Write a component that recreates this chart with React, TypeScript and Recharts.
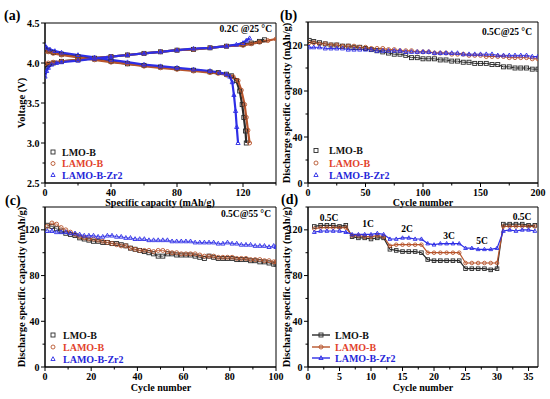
import React from 'react';
import { LineChart, Line, XAxis, YAxis, ReferenceArea } from 'recharts';

const FONT = '"Times New Roman", "Liberation Serif", serif';
const C_BLACK = '#2a2a2a';
const C_BROWN = '#b8552c';
const C_BLUE = '#2e2ee6';
const T_RED = '#e2432c';
const T_BLUE = '#2626d8';

const SERIES_NAMES = ['LMO-B', 'LAMO-B', 'LAMO-B-Zr2'];

// ---------- Panel (a): charge / discharge profiles ----------
const aLmoChgCap = [0, 2, 5, 10, 20, 30, 40, 50, 60, 70, 80, 90, 100, 110, 120, 125, 130, 133];
const aLmoChgV = [3.95, 3.98, 4.0, 4.02, 4.04, 4.06, 4.08, 4.1, 4.12, 4.14, 4.16, 4.17, 4.19, 4.21, 4.23, 4.25, 4.27, 4.29];
const aLamoChgCap = [0, 2, 5, 10, 20, 30, 40, 50, 60, 70, 80, 90, 100, 110, 120, 125, 130, 135, 140];
const aLamoChgV = [3.99, 4.0, 4.01, 4.02, 4.04, 4.06, 4.08, 4.1, 4.12, 4.14, 4.16, 4.17, 4.19, 4.21, 4.22, 4.24, 4.26, 4.28, 4.3];
const aZrChgCap = [0, 1, 2, 4, 7, 10, 20, 30, 40, 50, 60, 70, 80, 90, 100, 110, 116, 120, 122, 124];
const aZrChgV = [3.83, 3.9, 3.94, 3.98, 4.0, 4.01, 4.03, 4.055, 4.08, 4.1, 4.12, 4.14, 4.16, 4.18, 4.19, 4.21, 4.23, 4.25, 4.28, 4.31];

const aLmoDisCap = [0, 2, 5, 10, 20, 30, 40, 50, 60, 70, 80, 90, 100, 105, 110, 113, 116, 118, 119.5, 120.5, 121.5, 122];
const aLmoDisV = [4.17, 4.15, 4.13, 4.11, 4.08, 4.05, 4.02, 3.99, 3.97, 3.95, 3.93, 3.91, 3.89, 3.88, 3.86, 3.84, 3.78, 3.65, 3.48, 3.32, 3.15, 3.0];
const aLamoDisCap = [0, 2, 5, 10, 20, 30, 40, 50, 60, 70, 80, 90, 100, 105, 110, 114, 117, 119, 121, 122, 123, 124];
const aLamoDisV = [4.15, 4.14, 4.12, 4.1, 4.07, 4.04, 4.01, 3.99, 3.96, 3.94, 3.92, 3.9, 3.88, 3.87, 3.85, 3.83, 3.78, 3.66, 3.48, 3.32, 3.16, 3.0];
const aZrDisCap = [0, 1, 3, 6, 10, 20, 30, 40, 50, 60, 70, 80, 90, 100, 106, 110, 112, 113.5, 114.5, 115.5, 116.2, 117];
const aZrDisV = [4.22, 4.19, 4.17, 4.15, 4.13, 4.1, 4.07, 4.04, 4.01, 3.98, 3.96, 3.94, 3.92, 3.9, 3.88, 3.86, 3.83, 3.76, 3.6, 3.4, 3.2, 3.0];

const aXTicks = [0, 20, 40, 60, 80, 100, 120, 140];
const aXMajor = [0, 40, 80, 120];
const aYTicks = [2.5, 2.75, 3.0, 3.25, 3.5, 3.75, 4.0, 4.25, 4.5];
const aYMajor = [2.5, 3.0, 3.5, 4.0, 4.5];

// ---------- Panel (b): cycling 0.5C @ 25 °C ----------
const bCycles = [1, 5, 10, 15, 20, 25, 30, 35, 40, 45, 50, 55, 60, 65, 70, 75, 80, 85, 90, 95, 100, 105, 110, 115, 120, 125, 130, 135, 140, 145, 150, 155, 160, 165, 170, 175, 180, 185, 190, 195, 200];
const bLmo = [124, 123, 122, 121, 120, 120, 119, 119, 118, 118, 117, 116, 115, 114, 113, 112, 112, 111, 109, 109, 108, 108, 108, 107, 107, 106, 106, 105, 105, 104, 104, 104, 103, 103, 101, 101, 100, 100, 100, 99, 99];
const bLamo = [122, 122, 121, 121, 120, 120, 119, 119, 119, 118, 118, 117, 117, 117, 116, 116, 115, 115, 115, 114, 114, 114, 113, 113, 113, 112, 112, 112, 111, 111, 111, 110, 110, 110, 110, 109, 109, 109, 109, 108, 108];
const bZr = [118, 118, 118, 117, 117, 117, 117, 116, 116, 116, 116, 116, 115, 115, 115, 115, 115, 114, 114, 114, 114, 114, 113, 113, 113, 113, 113, 112, 112, 112, 112, 112, 112, 111, 111, 111, 111, 111, 111, 110, 110];
const bXTicks = [0, 25, 50, 75, 100, 125, 150, 175, 200];
const bXMajor = [0, 50, 100, 150, 200];

// ---------- Panel (c): cycling 0.5C @ 55 °C ----------
const cCycles = [1, 3, 5, 7, 9, 11, 13, 15, 17, 19, 21, 23, 25, 27, 29, 31, 33, 35, 37, 39, 41, 43, 45, 47, 49, 51, 53, 55, 57, 59, 61, 63, 65, 67, 69, 71, 73, 75, 77, 79, 81, 83, 85, 87, 89, 91, 93, 95, 97, 99, 100];
const cLmo = [124, 123, 121, 119, 117, 116, 115, 113, 112, 111, 110, 110, 109, 109, 108, 108, 107, 106, 104, 103, 102, 101, 100, 99, 97, 97, 99, 99, 98, 98, 98, 98, 97, 96, 95, 97, 96, 95, 95, 95, 95, 94, 94, 94, 93, 93, 92, 92, 91, 90, 90];
const cLamo = [123, 126, 125, 122, 120, 118, 116, 114, 113, 112, 112, 111, 110, 109, 108, 107, 106, 106, 104, 103, 102, 102, 102, 101, 102, 102, 101, 100, 100, 99, 99, 99, 99, 98, 97, 97, 97, 96, 96, 96, 96, 95, 95, 95, 94, 94, 94, 93, 93, 92, 92];
const cZr = [119, 119, 118, 118, 118, 117, 117, 116, 115, 115, 115, 114, 114, 115, 115, 114, 114, 113, 113, 112, 112, 112, 111, 111, 111, 111, 111, 110, 110, 110, 110, 110, 109, 109, 109, 109, 109, 108, 108, 109, 108, 108, 107, 107, 107, 106, 106, 106, 105, 106, 105];
const cXTicks = [0, 10, 20, 30, 40, 50, 60, 70, 80, 90, 100];
const cXMajor = [0, 20, 40, 60, 80, 100];

// ---------- Panel (d): rate capability ----------
const dCycles = [1, 2, 3, 4, 5, 6, 7, 8, 9, 10, 11, 12, 13, 14, 15, 16, 17, 18, 19, 20, 21, 22, 23, 24, 25, 26, 27, 28, 29, 30, 31, 32, 33, 34, 35, 36];
const dLmo = [123, 124, 124, 124, 123, 124, 114, 113, 113, 112, 113, 113, 103, 102, 101, 101, 101, 100, 94, 93, 93, 93, 93, 93, 86, 86, 86, 86, 85, 86, 125, 125, 125, 125, 124, 124];
const dLamo = [121, 122, 122, 122, 122, 122, 115, 115, 114, 114, 115, 114, 106, 107, 107, 107, 107, 107, 100, 100, 100, 100, 100, 100, 91, 91, 91, 91, 91, 91, 123, 123, 123, 123, 123, 123];
const dZr = [118, 119, 119, 119, 119, 118, 116, 116, 116, 116, 117, 116, 112, 112, 113, 113, 112, 112, 108, 107, 108, 108, 108, 108, 104, 104, 103, 103, 103, 104, 119, 120, 119, 120, 120, 119];
const dXTicks = [0, 2.5, 5, 7.5, 10, 12.5, 15, 17.5, 20, 22.5, 25, 27.5, 30, 32.5, 35];
const dXMajor = [0, 5, 10, 15, 20, 25, 30, 35];
const dRateLabels = ['0.5C', '1C', '2C', '3C', '5C', '0.5C'];

const capYTicks = [0, 20, 40, 60, 80, 100, 120, 140];
const capYMajor = [0, 40, 80, 120];

// ---------- helpers ----------
type Pt = { x: number; y: number };
type Shape = 'square' | 'circle' | 'triangle';
const zip = (xs: number[], ys: number[]): Pt[] => xs.map((x, i) => ({ x, y: ys[i] }));

function Marker({ cx, cy, shape, color, s }: { cx?: number; cy?: number; shape: Shape; color: string; s: number }) {
  if (cx == null || cy == null || isNaN(cx) || isNaN(cy)) return <g />;
  if (shape === 'square')
    return <rect x={cx - s} y={cy - s} width={2 * s} height={2 * s} fill="none" stroke={color} strokeWidth={0.9} />;
  if (shape === 'circle') return <circle cx={cx} cy={cy} r={s} fill="none" stroke={color} strokeWidth={0.9} />;
  return (
    <path
      d={`M${cx},${cy - s * 1.15} L${cx + s * 1.05},${cy + s * 0.75} L${cx - s * 1.05},${cy + s * 0.75} Z`}
      fill="none"
      stroke={color}
      strokeWidth={0.9}
    />
  );
}

const makeDot = (shape: Shape, color: string, s: number) => (p: any) => (
  <Marker key={`d-${p.index}`} cx={p.cx} cy={p.cy} shape={shape} color={color} s={s} />
);

const isMajor = (majors: number[], v: number) => majors.some((m) => Math.abs(m - v) < 1e-9);

const mkXTick = (majors: number[]) => (p: any) => {
  const { x, y, payload } = p;
  const v = payload.value;
  const major = isMajor(majors, v);
  return (
    <g key={`xt-${v}`}>
      <line x1={x} y1={y} x2={x} y2={y + (major ? 4 : 2.5)} stroke="#000" strokeWidth={1} />
      {major && (
        <text x={x} y={y + 9} textAnchor="middle" dominantBaseline="central" fontSize={10} fontWeight="bold" fontFamily={FONT} fill="#000">
          {String(v)}
        </text>
      )}
    </g>
  );
};

const mkYTick = (majors: number[], fmt: (v: number) => string) => (p: any) => {
  const { x, y, payload } = p;
  const v = payload.value;
  const major = isMajor(majors, v);
  return (
    <g key={`yt-${v}`}>
      <line x1={x} y1={y} x2={x - (major ? 4 : 2.5)} y2={y} stroke="#000" strokeWidth={1} />
      {major && (
        <text x={x - 5.5} y={y} textAnchor="end" dominantBaseline="central" fontSize={10} fontWeight="bold" fontFamily={FONT} fill="#000">
          {fmt(v)}
        </text>
      )}
    </g>
  );
};

type SeriesDef = { data: Pt[]; color: string; shape: Shape; width: number; size: number };

function Panel(props: {
  left: number;
  top: number;
  width: number;
  height: number;
  margin: { top: number; right: number; bottom: number; left: number };
  yWidth: number;
  xDomain: [number, number];
  yDomain: [number, number];
  xTicks: number[];
  xMajor: number[];
  yTicks: number[];
  yMajor: number[];
  yFmt: (v: number) => string;
  series: SeriesDef[];
}) {
  const { left, top, width, height, margin, yWidth, xDomain, yDomain, xTicks, xMajor, yTicks, yMajor, yFmt, series } = props;
  return (
    <div style={{ position: 'absolute', left, top }}>
      <LineChart width={width} height={height} margin={margin}>
        <XAxis
          type="number"
          dataKey="x"
          domain={xDomain}
          ticks={xTicks}
          interval={0}
          allowDataOverflow
          height={25}
          tickLine={false}
          tickSize={0}
          tickMargin={0}
          axisLine={{ stroke: '#000', strokeWidth: 1 }}
          tick={mkXTick(xMajor)}
        />
        <YAxis
          type="number"
          domain={yDomain}
          ticks={yTicks}
          interval={0}
          allowDataOverflow
          width={yWidth}
          tickLine={false}
          tickSize={0}
          tickMargin={0}
          axisLine={{ stroke: '#000', strokeWidth: 1 }}
          tick={mkYTick(yMajor, yFmt)}
        />
        <ReferenceArea x1={xDomain[0]} x2={xDomain[1]} y1={yDomain[0]} y2={yDomain[1]} fill="none" stroke="#000" strokeWidth={1} />
        {series.map((s, i) => (
          <Line
            key={i}
            data={s.data}
            dataKey="y"
            type="linear"
            stroke={s.color}
            strokeWidth={s.width}
            dot={makeDot(s.shape, s.color, s.size)}
            activeDot={false}
            isAnimationActive={false}
            legendType="none"
          />
        ))}
      </LineChart>
    </div>
  );
}

const SHAPES: Shape[] = ['square', 'circle', 'triangle'];
const COLORS = [C_BLACK, C_BROWN, C_BLUE];
const TEXT_COLORS = ['#111', T_RED, T_BLUE];

function LegendBlock({ mx, tx, ys, withLine }: { mx: number; tx: number; ys: number[]; withLine?: boolean }) {
  return (
    <g>
      {SERIES_NAMES.map((n, i) => (
        <g key={n}>
          {withLine && <line x1={mx - 9} y1={ys[i]} x2={mx + 9} y2={ys[i]} stroke={COLORS[i]} strokeWidth={1.4} />}
          <Marker cx={mx} cy={ys[i]} shape={SHAPES[i]} color={COLORS[i]} s={2} />
          <text x={tx} y={ys[i]} dominantBaseline="central" fontSize={10} fontWeight="bold" fontFamily={FONT} fill={TEXT_COLORS[i]}>
            {n}
          </text>
        </g>
      ))}
    </g>
  );
}

const T = (p: { x: number; y: number; children: React.ReactNode; size?: number; anchor?: 'start' | 'middle' | 'end'; rotate?: boolean }) => (
  <text
    x={p.x}
    y={p.y}
    textAnchor={p.anchor ?? 'middle'}
    dominantBaseline="central"
    fontSize={p.size ?? 10.5}
    fontWeight="bold"
    fontFamily={FONT}
    fill="#000"
    transform={p.rotate ? `rotate(-90 ${p.x} ${p.y})` : undefined}
  >
    {p.children}
  </text>
);

export default function App() {
  const aSeries: SeriesDef[] = [
    { data: zip(aLmoChgCap, aLmoChgV), color: C_BLACK, shape: 'square', width: 2.2, size: 2 },
    { data: zip(aLmoDisCap, aLmoDisV), color: C_BLACK, shape: 'square', width: 2.2, size: 2 },
    { data: zip(aLamoChgCap, aLamoChgV), color: C_BROWN, shape: 'circle', width: 2.2, size: 2 },
    { data: zip(aLamoDisCap, aLamoDisV), color: C_BROWN, shape: 'circle', width: 2.2, size: 2 },
    { data: zip(aZrChgCap, aZrChgV), color: C_BLUE, shape: 'triangle', width: 2.2, size: 2 },
    { data: zip(aZrDisCap, aZrDisV), color: C_BLUE, shape: 'triangle', width: 2.2, size: 2 },
  ];
  const bSeries: SeriesDef[] = [
    { data: zip(bCycles, bLmo), color: C_BLACK, shape: 'square', width: 1, size: 2 },
    { data: zip(bCycles, bLamo), color: C_BROWN, shape: 'circle', width: 1, size: 2 },
    { data: zip(bCycles, bZr), color: C_BLUE, shape: 'triangle', width: 1, size: 2 },
  ];
  const cSeries: SeriesDef[] = [
    { data: zip(cCycles, cLmo), color: C_BLACK, shape: 'square', width: 0.8, size: 2 },
    { data: zip(cCycles, cLamo), color: C_BROWN, shape: 'circle', width: 0.8, size: 2 },
    { data: zip(cCycles, cZr), color: C_BLUE, shape: 'triangle', width: 0.8, size: 2 },
  ];
  const dSeries: SeriesDef[] = [
    { data: zip(dCycles, dLmo), color: C_BLACK, shape: 'square', width: 1.2, size: 1.8 },
    { data: zip(dCycles, dLamo), color: C_BROWN, shape: 'circle', width: 1.2, size: 1.8 },
    { data: zip(dCycles, dZr), color: C_BLUE, shape: 'triangle', width: 1.2, size: 1.8 },
  ];
  const f1 = (v: number) => v.toFixed(1);
  const f0 = (v: number) => String(v);
  const rateXY: [number, number][] = [
    [329, 218],
    [368, 224],
    [407, 229],
    [449, 236],
    [482, 241],
    [522, 217],
  ];

  return (
    <div style={{ position: 'absolute', left: 0, top: 0, width: 550, height: 399, background: '#fff', overflow: 'hidden' }}>
      <Panel
        left={0}
        top={0}
        width={290}
        height={210}
        margin={{ top: 23, right: 14, bottom: 2, left: 5 }}
        yWidth={40}
        xDomain={[0, 140]}
        yDomain={[2.5, 4.5]}
        xTicks={aXTicks}
        xMajor={aXMajor}
        yTicks={aYTicks}
        yMajor={aYMajor}
        yFmt={f1}
        series={aSeries}
      />
      <Panel
        left={275}
        top={0}
        width={275}
        height={210}
        margin={{ top: 22, right: 12, bottom: 2, left: 3 }}
        yWidth={30}
        xDomain={[0, 200]}
        yDomain={[0, 140]}
        xTicks={bXTicks}
        xMajor={bXMajor}
        yTicks={capYTicks}
        yMajor={capYMajor}
        yFmt={f0}
        series={bSeries}
      />
      <Panel
        left={0}
        top={195}
        width={290}
        height={200}
        margin={{ top: 12, right: 14, bottom: 3, left: 5 }}
        yWidth={40}
        xDomain={[0, 100]}
        yDomain={[0, 140]}
        xTicks={cXTicks}
        xMajor={cXMajor}
        yTicks={capYTicks}
        yMajor={capYMajor}
        yFmt={f0}
        series={cSeries}
      />
      <Panel
        left={275}
        top={195}
        width={275}
        height={200}
        margin={{ top: 12, right: 12, bottom: 3, left: 3 }}
        yWidth={30}
        xDomain={[0, 36.5]}
        yDomain={[0, 140]}
        xTicks={dXTicks}
        xMajor={dXMajor}
        yTicks={capYTicks}
        yMajor={capYMajor}
        yFmt={f0}
        series={dSeries}
      />
      <svg width={550} height={399} style={{ position: 'absolute', left: 0, top: 0, pointerEvents: 'none' }}>
        <T x={4} y={15} size={14} anchor="start">(a)</T>
        <T x={280} y={15} size={14} anchor="start">(b)</T>
        <T x={5} y={200} size={14} anchor="start">(c)</T>
        <T x={281} y={199} size={14} anchor="start">(d)</T>

        <T x={160} y={202} size={10}>Specific capacity (mAh/g)</T>
        <T x={423} y={202} size={10}>Cycle number</T>
        <T x={161} y={387} size={10}>Cycle number</T>
        <T x={423} y={387} size={10}>Cycle number</T>

        <T x={21} y={103} rotate>Voltage (V)</T>
        <T x={286} y={103} rotate>Discharge specific capacity (mAh/g)</T>
        <T x={21} y={287} rotate>Discharge specific capacity (mAh/g)</T>
        <T x={286} y={287} rotate>Discharge specific capacity (mAh/g)</T>

        <T x={272} y={29} size={9.5} anchor="end">0.2C @25 °C</T>
        <T x={532} y={32} size={9.5} anchor="end">0.5C@25 °C</T>
        <T x={271} y={214} size={9.5} anchor="end">0.5C@55 °C</T>

        {dRateLabels.map((l, i) => (
          <T key={i} x={rateXY[i][0]} y={rateXY[i][1]} size={9.5}>
            {l}
          </T>
        ))}

        <LegendBlock mx={53} tx={62} ys={[152, 163.5, 175]} />
        <LegendBlock mx={316} tx={329} ys={[150.5, 163, 175]} />
        <LegendBlock mx={53} tx={63} ys={[335, 347, 359]} />
        <LegendBlock mx={321} tx={335} ys={[335, 347, 358]} withLine />
      </svg>
    </div>
  );
}
